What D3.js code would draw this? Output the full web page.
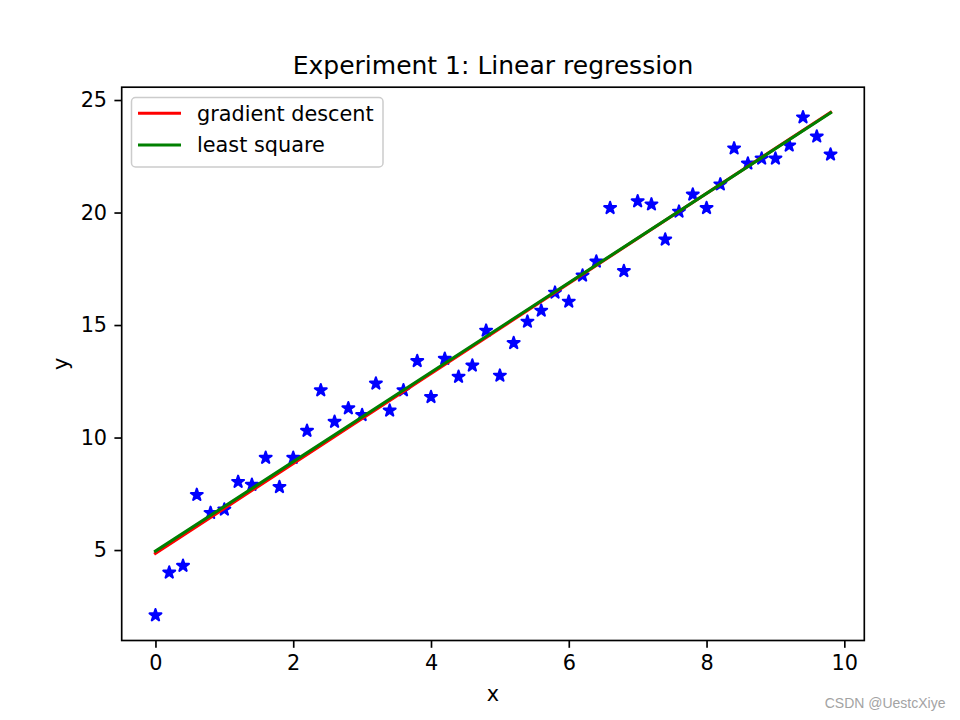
<!DOCTYPE html>
<html>
<head>
<meta charset="utf-8">
<script src="https://cdn.jsdelivr.net/npm/d3@7"></script>
<style>
  html, body { margin: 0; padding: 0; background: #fff; }
  svg { display: block; font-family: "DejaVu Sans", sans-serif; }
</style>
</head>
<body>
<svg id="chart" width="960" height="720"></svg>
<script>
// ---- data ----
const xValues = [0.0,0.2,0.4,0.6,0.8,1.0,1.2,1.4,1.6,1.8,2.0,2.2,2.4,2.6,2.8,3.0,3.2,3.4,3.6,3.8,
                 4.0,4.2,4.4,4.6,4.8,5.0,5.2,5.4,5.6,5.8,6.0,6.2,6.4,6.6,6.8,7.0,7.2,7.4,7.6,7.8,
                 8.0,8.2,8.4,8.6,8.8,9.0,9.2,9.4,9.6,9.8];
const yValues = [2.1,4.0,4.3,7.45,6.65,6.8,8.03,7.9,9.1,7.8,9.1,10.3,12.1,10.7,11.3,11.0,12.4,11.2,12.1,13.4,
                 11.8,13.5,12.7,13.2,14.75,12.75,14.2,15.15,15.64,16.44,16.04,17.2,17.82,20.2,17.4,20.5,20.36,18.8,20.04,20.8,
                 20.2,21.25,22.85,22.18,22.4,22.4,22.98,24.23,23.38,22.58];
const lineX = [0.0, 9.8];
const gradientDescentY = [4.85, 24.45];
const leastSquareY = [4.95, 24.43];
const xTicks = [0, 2, 4, 6, 8, 10];
const yTicks = [5, 10, 15, 20, 25];
const legendLabels = ["gradient descent", "least square"];
const legendColors = ["#ff0000", "#008000"];

// ---- layout ----
const svg = d3.select("#chart");
const plot = { left: 121.7, right: 864.3, top: 87.2, bottom: 640.5 };
const x = d3.scaleLinear().domain([-0.49, 10.29]).range([plot.left, plot.right]);
const y = d3.scaleLinear().domain([0.98, 25.57]).range([plot.bottom, plot.top]);

const fontSize = 20.8;
const tickLen = 7.3, tickPad = 7.3, spineW = 1.67;

// stars
function starPath(r) {
  const ri = r * 0.381966;
  let pts = [];
  for (let i = 0; i < 10; i++) {
    const a = -Math.PI / 2 + i * Math.PI / 5;
    const rr = i % 2 === 0 ? r : ri;
    pts.push([rr * Math.cos(a), rr * Math.sin(a)]);
  }
  return "M" + pts.map(p => p[0].toFixed(3) + "," + p[1].toFixed(3)).join("L") + "Z";
}
const star = starPath(6.25);

svg.append("defs").append("clipPath").attr("id", "clip")
  .append("rect").attr("x", plot.left).attr("y", plot.top)
  .attr("width", plot.right - plot.left).attr("height", plot.bottom - plot.top);

const g = svg.append("g").attr("clip-path", "url(#clip)");
g.selectAll("path.star").data(xValues.map((d, i) => [d, yValues[i]]))
  .enter().append("path").attr("class", "star")
  .attr("d", star)
  .attr("transform", d => `translate(${x(d[0])},${y(d[1])})`)
  .attr("fill", "#0000ff").attr("stroke", "#0000ff").attr("stroke-width", 2.08)
  .attr("stroke-linejoin", "round");

const line = d3.line().x(d => x(d[0])).y(d => y(d[1]));
g.append("path").datum(lineX.map((d, i) => [d, gradientDescentY[i]]))
  .attr("d", line).attr("fill", "none").attr("stroke", legendColors[0])
  .attr("stroke-width", 3.1).attr("stroke-linecap", "square");
g.append("path").datum(lineX.map((d, i) => [d, leastSquareY[i]]))
  .attr("d", line).attr("fill", "none").attr("stroke", legendColors[1])
  .attr("stroke-width", 3.1).attr("stroke-linecap", "square");

// axes
const xAxis = d3.axisBottom(x).tickValues(xTicks).tickSize(tickLen).tickPadding(tickPad).tickFormat(d3.format("d"));
const yAxis = d3.axisLeft(y).tickValues(yTicks).tickSize(tickLen).tickPadding(tickPad).tickFormat(d3.format("d"));

const gx = svg.append("g").attr("transform", `translate(0,${plot.bottom})`).call(xAxis);
const gy = svg.append("g").attr("transform", `translate(${plot.left},0)`).call(yAxis);
[gx, gy].forEach(a => {
  a.select(".domain").remove();
  a.selectAll(".tick line").attr("stroke", "#000").attr("stroke-width", spineW);
  a.selectAll(".tick text").attr("fill", "#000").attr("font-size", fontSize)
    .attr("font-family", "DejaVu Sans, sans-serif");
});

// spines
svg.append("rect").attr("x", plot.left).attr("y", plot.top)
  .attr("width", plot.right - plot.left).attr("height", plot.bottom - plot.top)
  .attr("fill", "none").attr("stroke", "#000").attr("stroke-width", spineW);

// title & labels
svg.append("text").attr("x", (plot.left + plot.right) / 2).attr("y", 74)
  .attr("text-anchor", "middle").attr("font-size", 25).attr("fill", "#000")
  .text("Experiment 1: Linear regression");
svg.append("text").attr("x", (plot.left + plot.right) / 2).attr("y", 701)
  .attr("text-anchor", "middle").attr("font-size", fontSize).attr("fill", "#000").text("x");
svg.append("text").attr("transform", `translate(68,${(plot.top + plot.bottom) / 2}) rotate(-90)`)
  .attr("text-anchor", "middle").attr("font-size", fontSize).attr("fill", "#000").text("y");

// legend
const lg = svg.append("g");
lg.append("rect").attr("x", 131.5).attr("y", 97.5).attr("width", 251.5).attr("height", 69.5)
  .attr("rx", 4).attr("fill", "#fff").attr("fill-opacity", 0.8)
  .attr("stroke", "#cccccc").attr("stroke-width", 1.5);
legendLabels.forEach((lab, i) => {
  const cy = 113.3 + i * 31.7;
  lg.append("line").attr("x1", 138).attr("x2", 181).attr("y1", cy).attr("y2", cy)
    .attr("stroke", legendColors[i]).attr("stroke-width", 3.1);
  lg.append("text").attr("x", 197).attr("y", cy).attr("dy", "0.36em")
    .attr("font-size", fontSize).attr("fill", "#000").text(lab);
});

// watermark
svg.append("text").attr("x", 945.5).attr("y", 708.3).attr("text-anchor", "end")
  .attr("font-family", "Liberation Sans, Arial, sans-serif").attr("font-size", 14)
  .attr("fill", "#a3a3a3").text("CSDN @UestcXiye");
</script>
</body>
</html>
